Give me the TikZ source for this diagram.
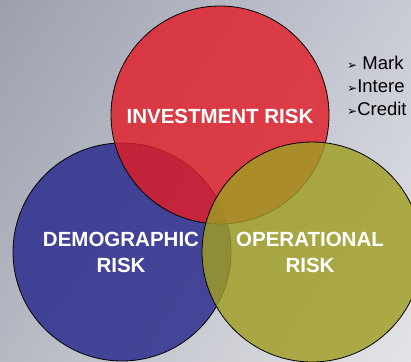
\documentclass[tikz,border=0pt]{standalone}
\usepackage{fontspec}
\usetikzlibrary{shadings}
\setmainfont{Liberation Sans}
\newfontfamily\symfont{DejaVu Sans}
\definecolor{bgUL}{RGB}{156,160,174}
\definecolor{bgUR}{RGB}{200,203,212}
\definecolor{bgLL}{RGB}{182,185,194}
\definecolor{bgLR}{RGB}{226,228,231}
\definecolor{cred}{RGB}{225,30,40}
\definecolor{cblue}{RGB}{40,40,140}
\definecolor{colive}{RGB}{160,158,36}
\newcommand{\bulletarrow}{{\symfont\fontsize{12}{14}\selectfont ➢}}
\tikzset{
  venn/.style={draw=black, line width=0.8pt, fill opacity=0.82},
  vlabel/.style={text=white, font=\bfseries\fontsize{20.5}{26}\selectfont, align=center, inner sep=0pt},
  bullet/.style={anchor=base west, text=black, font=\fontsize{18.5}{22}\selectfont, inner sep=0pt}
}
\begin{document}
\begin{tikzpicture}[x=1pt,y=-1pt]
\useasboundingbox (0,0) rectangle (411,361);
\clip (0,0) rectangle (411,361);
\shade[upper left=bgUL, upper right=bgUR, lower left=bgLL, lower right=bgLR] (0,0) rectangle (411,361);
\draw[venn, fill=cblue] (122,252) circle (109);
\draw[venn, fill=cred] (220,115) circle (109);
\draw[venn, fill=colive] (312,252) circle (110);
\node[vlabel] (inv) at (220,116.5) {INVESTMENT RISK};
\node[vlabel] (dem) at (121,252.5) {DEMOGRAPHIC\\RISK};
\node[vlabel] (ope) at (310,252.5) {OPERATIONAL\\RISK};
\node[bullet] (b1) at (347,69) {\bulletarrow\ Mark};
\node[bullet] (b2) at (347,92) {\bulletarrow Intere};
\node[bullet] (b3) at (347,115) {\bulletarrow Credit};
\end{tikzpicture}
\end{document}
